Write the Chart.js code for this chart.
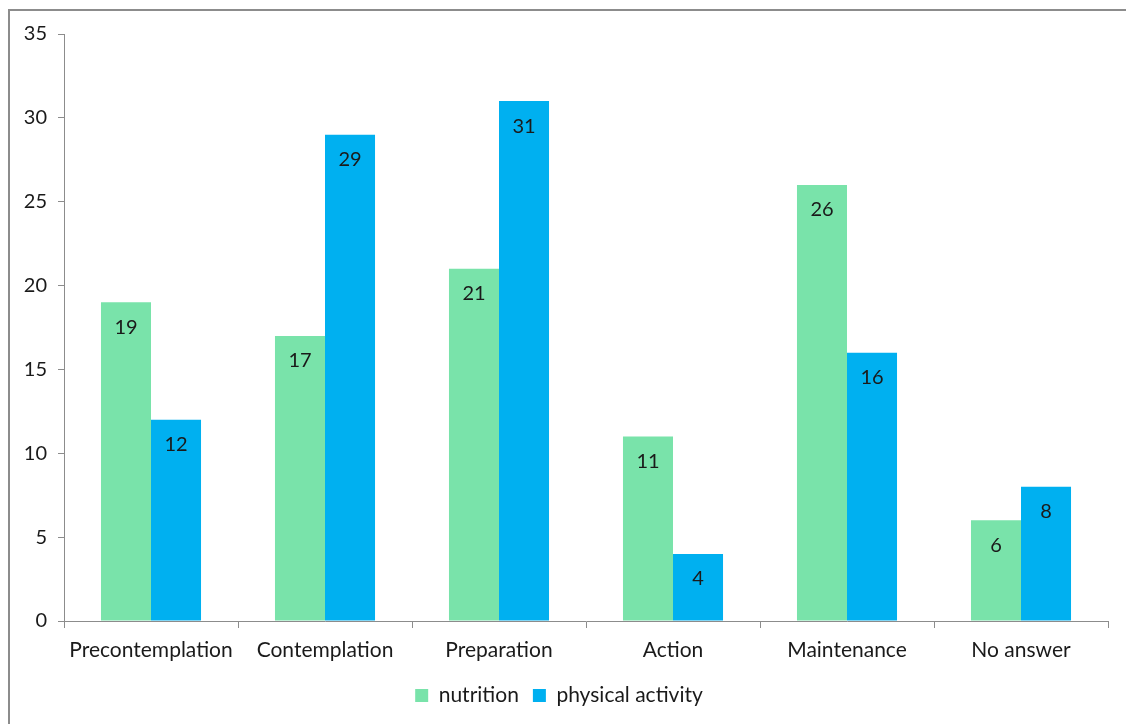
<!DOCTYPE html>
<html>
<head>
<meta charset="utf-8">
<script src="https://cdn.jsdelivr.net/npm/chart.js@4/dist/chart.umd.min.js"></script>
<style>
  html, body { margin: 0; padding: 0; background: #fff; overflow: hidden; }
  #quadro { position: absolute; left: 8px; top: 9px; width: 1116px; height: 713px; border-left: 2px solid #8c8c8c; border-top: 2px solid #8c8c8c; }
  canvas { display: block; }
</style>
</head>
<body>
<div id="quadro"><canvas id="grafico" width="1114" height="713"></canvas></div>
<script>
const categorias = ["Precontemplation", "Contemplation", "Preparation", "Action", "Maintenance", "No answer"];
const nutricao = [19, 17, 21, 11, 26, 6];
const atividadeFisica = [12, 29, 31, 4, 16, 8];
const ticksY = [0, 5, 10, 15, 20, 25, 30, 35];

const fonte = "Lato, 'Open Sans', sans-serif";

// rótulos de valor dentro das barras, no topo
const rotulosBarras = {
  id: "rotulosBarras",
  afterDatasetsDraw(chart) {
    const ctx = chart.ctx;
    ctx.save();
    ctx.font = "20px " + fonte;
    ctx.fillStyle = "#1a1a1a";
    ctx.textAlign = "center";
    ctx.textBaseline = "middle";
    chart.data.datasets.forEach((ds, i) => {
      chart.getDatasetMeta(i).data.forEach((bar, j) => {
        ctx.fillText(String(ds.data[j]), bar.x, bar.y + 25);
      });
    });
    ctx.restore();
  }
};

new Chart(document.getElementById("grafico"), {
  type: "bar",
  data: {
    labels: categorias,
    datasets: [
      { label: "nutrition", data: nutricao, backgroundColor: "#79e3aa", borderWidth: 0 },
      { label: "physical activity", data: atividadeFisica, backgroundColor: "#00b0f0", borderWidth: 0 }
    ]
  },
  options: {
    responsive: false,
    animation: false,
    categoryPercentage: 0.575,
    barPercentage: 1,
    layout: { padding: { top: 23, right: 16, bottom: 8, left: 0 } },
    plugins: {
      legend: {
        position: "bottom",
        labels: { color: "#1a1a1a", font: { family: fonte, size: 21 }, boxWidth: 13, boxHeight: 13, padding: 14 }
      },
      tooltip: { enabled: false }
    },
    scales: {
      x: {
        afterFit: s => { s.height = 50; },
        ticks: { color: "#1a1a1a", font: { family: fonte, size: 21 }, padding: 10 },
        grid: { display: true, drawOnChartArea: false, drawTicks: true, tickLength: 7, color: "#8c8c8c", offset: true },
        border: { display: true, color: "#8c8c8c", width: 1 }
      },
      y: {
        min: 0,
        max: 35,
        afterFit: s => { s.width = 54; },
        afterBuildTicks: s => { s.ticks = ticksY.map(v => ({ value: v })); },
        ticks: { color: "#1a1a1a", font: { family: fonte, size: 20 }, padding: 11 },
        grid: { display: true, drawOnChartArea: false, drawTicks: true, tickLength: 6, color: "#8c8c8c" },
        border: { display: true, color: "#8c8c8c", width: 1 }
      }
    }
  },
  plugins: [rotulosBarras]
});
</script>
</body>
</html>
